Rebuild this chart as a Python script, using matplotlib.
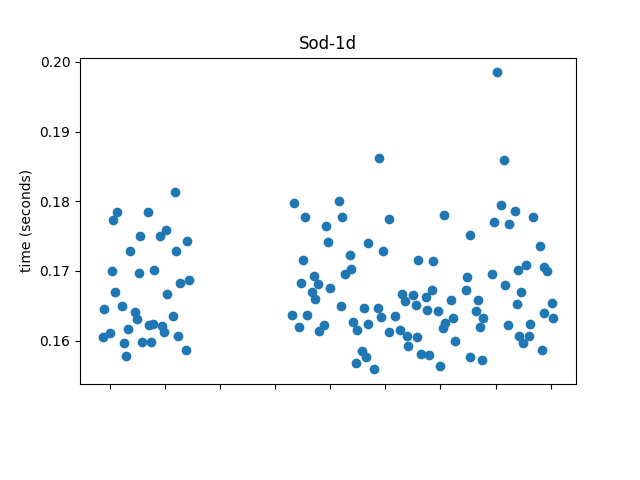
import matplotlib.pyplot as plt

# run position (jittered around each case) and wall time in seconds
x_pos = [
    1.18, 0.13, 0.69, 0.06, 1.02, 0.55, 0.91, 1.40, 0.36, 1.20,
    0.04, 0.53, 0.81, 1.44, 1.27, 0.09, 1.04, -0.11, 0.22, 0.45,
    0.49, 1.15, 0.71, 0.79, 0.95, 0.98, 0.33, 0.00, -0.13, 1.24,
    0.26, 0.58, 0.75, 1.38, 0.29,
    3.35, 4.16, 3.55, 4.22, 3.93, 3.96, 4.69, 3.51, 4.36, 4.38,
    4.26, 3.71, 3.77, 3.47, 3.67, 4.00, 3.73, 4.20, 4.62, 3.31,
    3.57, 3.44, 3.89, 3.80, 4.42, 4.49, 4.69, 4.58, 4.65, 4.46,
    4.89, 6.06, 5.07, 4.95, 5.60, 5.87, 5.31, 5.51, 5.73, 5.84,
    5.35, 5.55, 4.86, 5.76, 5.96, 4.92, 5.18, 5.06, 5.27, 5.39,
    5.57, 5.41, 6.09, 6.04, 4.80, 5.64, 5.80, 6.00,
    7.10, 7.35, 6.98, 7.24, 7.67, 6.53, 6.49, 6.94, 7.40, 7.56,
    7.18, 6.46, 7.47, 6.20, 6.69, 7.38, 6.65, 6.78, 6.23, 6.72,
    7.22, 7.63, 6.26, 7.43, 7.60, 6.54, 6.75, 7.02, 7.15, 7.80,
    7.88, 7.93, 8.03, 7.87, 8.05, 7.50, 7.84,
]
times = [
    0.1813, 0.1784, 0.1785, 0.1773, 0.1759, 0.1750, 0.1750, 0.1743, 0.1729, 0.1728,
    0.1700, 0.1697, 0.1702, 0.1687, 0.1683, 0.1670, 0.1667, 0.1645, 0.1650, 0.1641,
    0.1631, 0.1636, 0.1623, 0.1624, 0.1621, 0.1612, 0.1617, 0.1611, 0.1605, 0.1607,
    0.1597, 0.1598, 0.1598, 0.1587, 0.1578,
    0.1797, 0.1800, 0.1777, 0.1777, 0.1764, 0.1741, 0.1740, 0.1716, 0.1723, 0.1703,
    0.1696, 0.1693, 0.1681, 0.1683, 0.1670, 0.1675, 0.1660, 0.1649, 0.1647, 0.1637,
    0.1637, 0.1620, 0.1622, 0.1614, 0.1627, 0.1615, 0.1624, 0.1585, 0.1576, 0.1568,
    0.1862, 0.1780, 0.1774, 0.1729, 0.1716, 0.1714, 0.1667, 0.1665, 0.1662, 0.1672,
    0.1657, 0.1651, 0.1647, 0.1644, 0.1642, 0.1634, 0.1635, 0.1612, 0.1615, 0.1607,
    0.1605, 0.1592, 0.1625, 0.1618, 0.1559, 0.1581, 0.1579, 0.1564,
    0.1794, 0.1786, 0.1770, 0.1768, 0.1777, 0.1752, 0.1692, 0.1695, 0.1702, 0.1709,
    0.1680, 0.1673, 0.1670, 0.1659, 0.1658, 0.1653, 0.1643, 0.1632, 0.1633, 0.1619,
    0.1623, 0.1624, 0.1600, 0.1607, 0.1607, 0.1577, 0.1572, 0.1985, 0.1859, 0.1736,
    0.1706, 0.1700, 0.1654, 0.1640, 0.1633, 0.1597, 0.1587,
]

fig, ax = plt.subplots(figsize=(6.4, 4.8), dpi=100)
ax.scatter(x_pos, times)
ax.set_xticks(range(9))
ax.set_xticklabels([''] * 9)
ax.set_ylabel('time (seconds)')
ax.set_title('Sod-1d')
fig.subplots_adjust(bottom=0.2)
fig.savefig('out.png')
